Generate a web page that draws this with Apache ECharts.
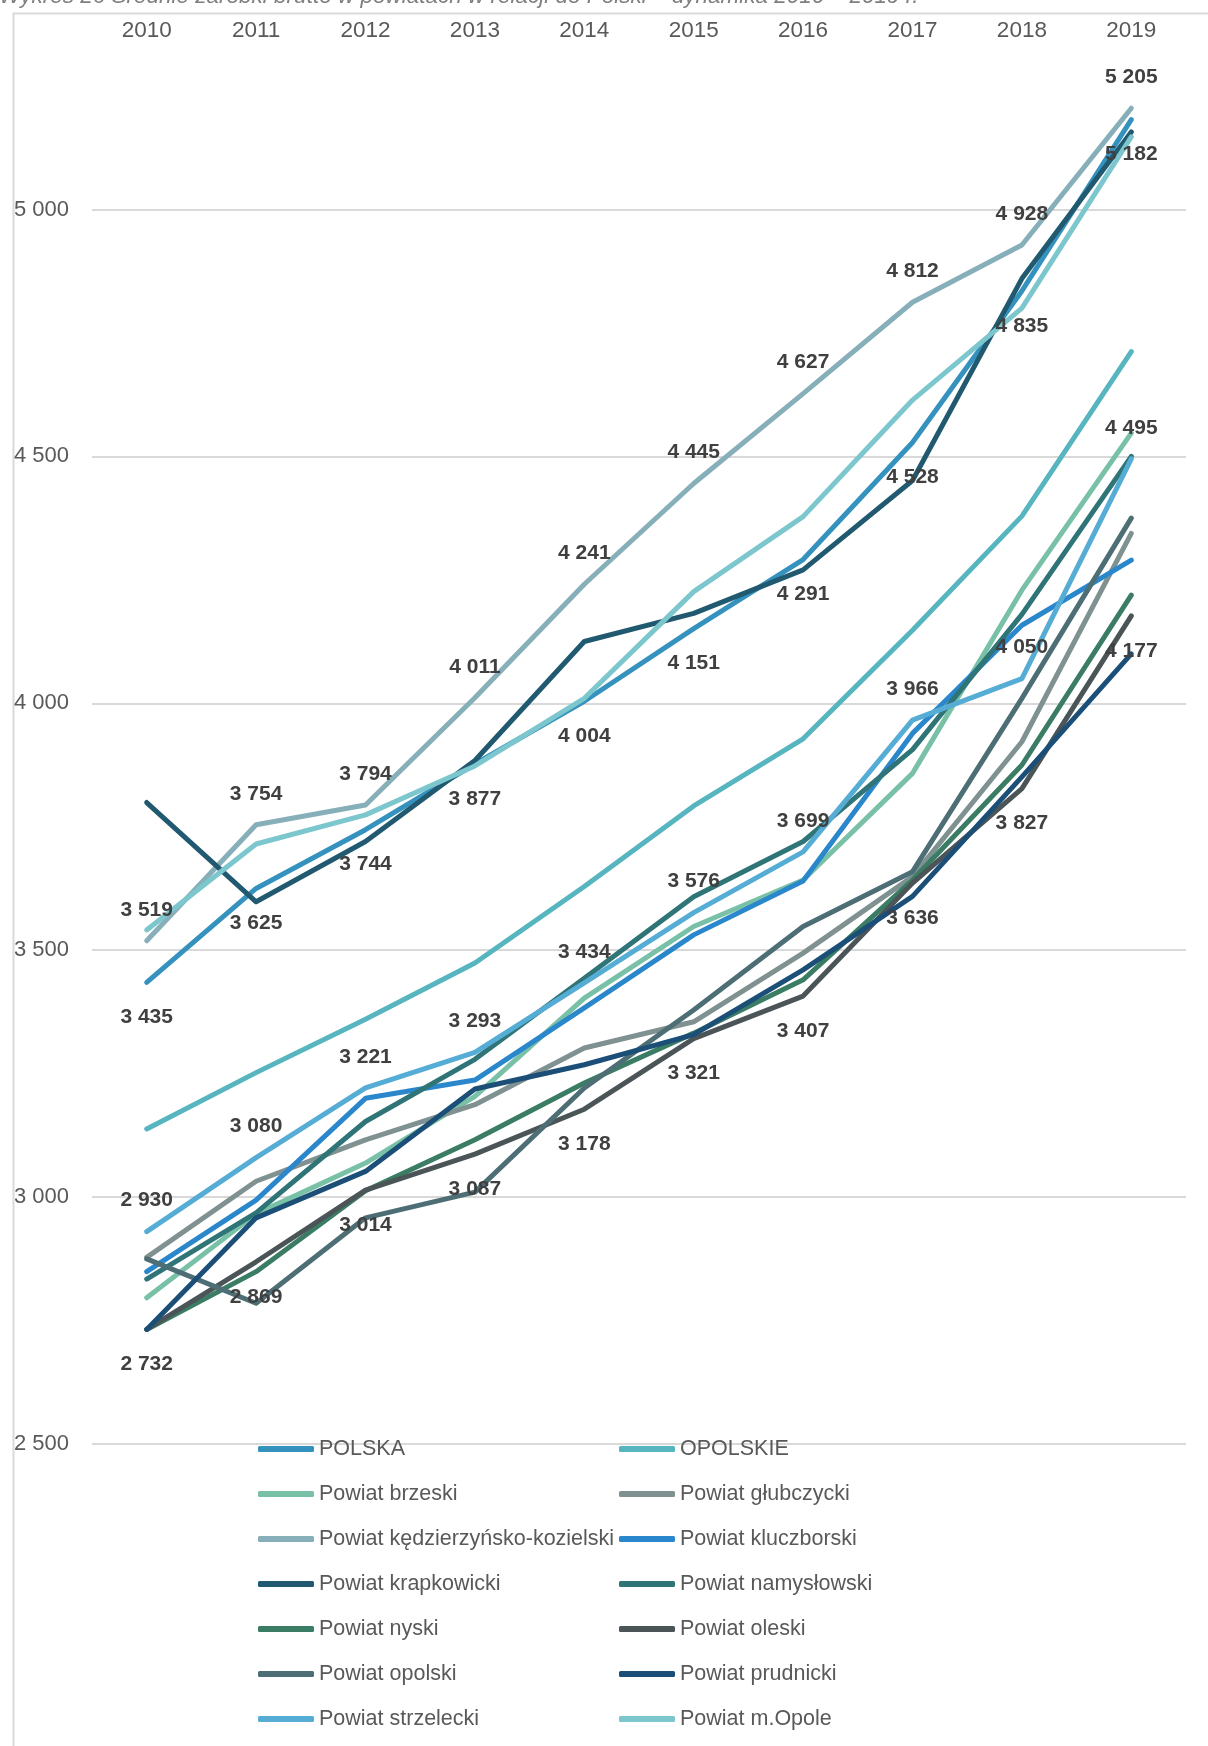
<!DOCTYPE html>
<html>
<head>
<meta charset="utf-8">
<script src="https://cdn.jsdelivr.net/npm/echarts/dist/echarts.min.js"></script>
<style>
html,body{margin:0;padding:0;background:#ffffff;}
#c{width:1208px;height:1746px;}
</style>
</head>
<body>
<div id="c"></div>
<script>
// ---- data ----
const years = ['2010','2011','2012','2013','2014','2015','2016','2017','2018','2019'];
const yTicks = [2500, 3000, 3500, 4000, 4500, 5000];

const POLSKA       = [3435, 3625, 3744, 3877, 4004, 4151, 4291, 4528, 4835, 5182];
const OPOLSKIE     = [3138, 3252, 3360, 3474, 3629, 3792, 3928, 4148, 4379, 4712];
const brzeski      = [2796, 2966, 3069, 3204, 3403, 3548, 3642, 3858, 4229, 4547];
const glubczycki   = [2878, 3032, 3116, 3187, 3302, 3355, 3494, 3649, 3922, 4344];
const kedzierzynsko= [3519, 3754, 3794, 4011, 4241, 4445, 4627, 4812, 4928, 5205];
const kluczborski  = [2849, 2994, 3200, 3237, 3383, 3531, 3640, 3939, 4158, 4290];
const krapkowicki  = [3799, 3598, 3720, 3884, 4125, 4182, 4270, 4451, 4860, 5157];
const namyslowski  = [2834, 2968, 3153, 3279, 3443, 3608, 3720, 3906, 4180, 4500];
const nyski        = [2732, 2849, 3013, 3116, 3231, 3332, 3440, 3642, 3875, 4219];
const oleski       = [2732, 2869, 3014, 3087, 3178, 3321, 3407, 3636, 3827, 4177];
const opolski      = [2875, 2785, 2958, 3010, 3221, 3379, 3548, 3659, 4010, 4375];
const prudnicki    = [2732, 2958, 3052, 3219, 3268, 3329, 3460, 3609, 3851, 4100];
const strzelecki   = [2930, 3080, 3221, 3293, 3434, 3576, 3699, 3966, 4050, 4495];
const mOpole       = [3541, 3715, 3774, 3873, 4010, 4226, 4378, 4614, 4800, 5147];

const seriesNames = ['POLSKA','OPOLSKIE','Powiat brzeski','Powiat głubczycki','Powiat kędzierzyńsko-kozielski',
  'Powiat kluczborski','Powiat krapkowicki','Powiat namysłowski','Powiat nyski','Powiat oleski',
  'Powiat opolski','Powiat prudnicki','Powiat strzelecki','Powiat m.Opole'];
const seriesData = [POLSKA, OPOLSKIE, brzeski, glubczycki, kedzierzynsko, kluczborski, krapkowicki,
  namyslowski, nyski, oleski, opolski, prudnicki, strzelecki, mOpole];
const seriesColors = ['#3592be','#56b5bf','#78c1a6','#7f9190','#87afb9','#2a87cc','#215a70',
  '#2f7477','#3a7d64','#4b5558','#4e6e76','#1c4f78','#55acd4','#7cc6cd'];

// labelled series: [data, label position]
const labelled = [[kedzierzynsko,'top'],[POLSKA,'bottom'],[strzelecki,'top'],[oleski,'bottom']];

// ---- chart ----
const FONT = 'Liberation Sans, Arial, sans-serif';
const fmt = v => String(Math.round(v)).replace(/\B(?=(\d{3})+(?!\d))/g, ' ');

const chart = echarts.init(document.getElementById('c'), null, {renderer:'canvas'});

const series = seriesNames.map((n, i) => ({
  type: 'line',
  name: n,
  data: seriesData[i],
  showSymbol: false,
  symbol: 'none',
  lineStyle: {width: 5, color: seriesColors[i], join: 'round', cap: 'round'},
  itemStyle: {color: seriesColors[i]},
  emphasis: {disabled: true},
  animation: false,
  z: 2
}));

labelled.forEach((l, k) => {
  series.push({
    type: 'line',
    name: '_lbl' + k,
    data: l[0],
    symbol: 'circle',
    symbolSize: 1,
    showSymbol: true,
    itemStyle: {color: 'rgba(0,0,0,0)'},
    lineStyle: {opacity: 0, width: 0},
    label: {
      show: true, position: l[1], distance: l[1] === 'top' ? 20 : 24,
      formatter: p => fmt(p.value),
      color: '#404040', fontWeight: 'bold', fontSize: 21, fontFamily: FONT
    },
    silent: true, animation: false, z: 5,
    emphasis: {disabled: true}
  });
});

const legendBase = {
  orient: 'vertical', icon: 'roundRect', itemWidth: 56, itemHeight: 6, itemGap: 23,
  padding: 0, selectedMode: false,
  textStyle: {fontSize: 21.5, fontFamily: FONT, color: '#595959', lineHeight: 22}
};

chart.setOption({
  backgroundColor: '#ffffff',
  animation: false,
  graphic: [
    {type: 'rect', left: 11, top: 11, shape: {x: 0, y: 0, width: 1400, height: 1900},
     style: {fill: 'none', stroke: '#d9d9d9', lineWidth: 2}, silent: true, z: 0},
    {type: 'text', left: -1, top: -15,
     style: {text: 'Wykres 26 Średnie zarobki brutto w powiatach w relacji do Polski – dynamika 2010 – 2019 r.',
             font: 'italic 22.5px ' + FONT, fill: '#7f7f7f'}, silent: true}
  ],
  grid: {left: 92, right: 22, top: 45, bottom: 302, outerBoundsMode: 'none', containLabel: false},
  xAxis: {
    type: 'category', data: years, position: 'top', boundaryGap: true,
    axisLine: {show: false}, axisTick: {show: false},
    axisLabel: {color: '#595959', fontSize: 22.5, fontFamily: FONT, margin: 3},
    splitLine: {show: false}
  },
  yAxis: {
    type: 'value', min: yTicks[0], max: 5333, interval: 500,
    axisLine: {show: false}, axisTick: {show: false},
    axisLabel: {color: '#595959', fontSize: 22, fontFamily: FONT, margin: 23,
                formatter: v => (yTicks.indexOf(v) >= 0 ? fmt(v) : ''), showMaxLabel: false},
    splitLine: {show: true, showMaxLine: false, lineStyle: {color: '#d9d9d9', width: 2}}
  },
  legend: [
    Object.assign({}, legendBase, {left: 258, top: 1438,
      data: [seriesNames[0], seriesNames[2], seriesNames[4], seriesNames[6], seriesNames[8], seriesNames[10], seriesNames[12]]}),
    Object.assign({}, legendBase, {left: 619, top: 1438,
      data: [seriesNames[1], seriesNames[3], seriesNames[5], seriesNames[7], seriesNames[9], seriesNames[11], seriesNames[13]]})
  ],
  tooltip: {show: false},
  series: series
});
</script>
</body>
</html>
